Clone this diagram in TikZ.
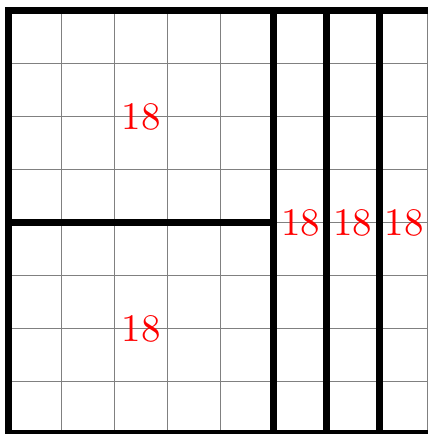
\documentclass[tikz,border=0pt]{standalone}
\usepackage{graphicx}
\begin{document}
\begin{tikzpicture}[x=1pt,y=-1pt,
  thin grid/.style={draw=gray,line width=0.9pt},
  thick wall/.style={draw=black,line width=7pt},
  num/.style={text=red,inner sep=0pt}]
\useasboundingbox (0,0) rectangle (430,434);
\clip (0,0) rectangle (430,434);
% thin grid
\foreach \k in {1,...,7} {
  \draw[thin grid] ({8.4+52.9*\k},10.7) -- ({8.4+52.9*\k},434);
  \draw[thin grid] (8.4,{10.7+52.9*\k}) -- (427.5,{10.7+52.9*\k});
}
\draw[thin grid] (427.5,10.7) -- (427.5,434);
% thick walls
\draw[thick wall] (8.4,433.9) -- (8.4,10.7) -- (428,10.7);
\draw[thick wall] (4.9,433.9) -- (428,433.9);
\draw[thick wall] (273,10.7) -- (273,434);
\draw[thick wall] (326,10.7) -- (326,434);
\draw[thick wall] (379,10.7) -- (379,434);
\draw[thick wall] (8.4,222.3) -- (273,222.3);
% labels
\node[num] (a) at (141,117) {\scalebox{3.9}{18}};
\node[num] (b) at (141,329) {\scalebox{3.9}{18}};
\node[num] (c) at (300.5,223) {\scalebox{3.9}{18}};
\node[num] (d) at (352.5,223) {\scalebox{3.9}{18}};
\node[num] (e) at (404,223) {\scalebox{3.9}{18}};
\end{tikzpicture}
\end{document}
